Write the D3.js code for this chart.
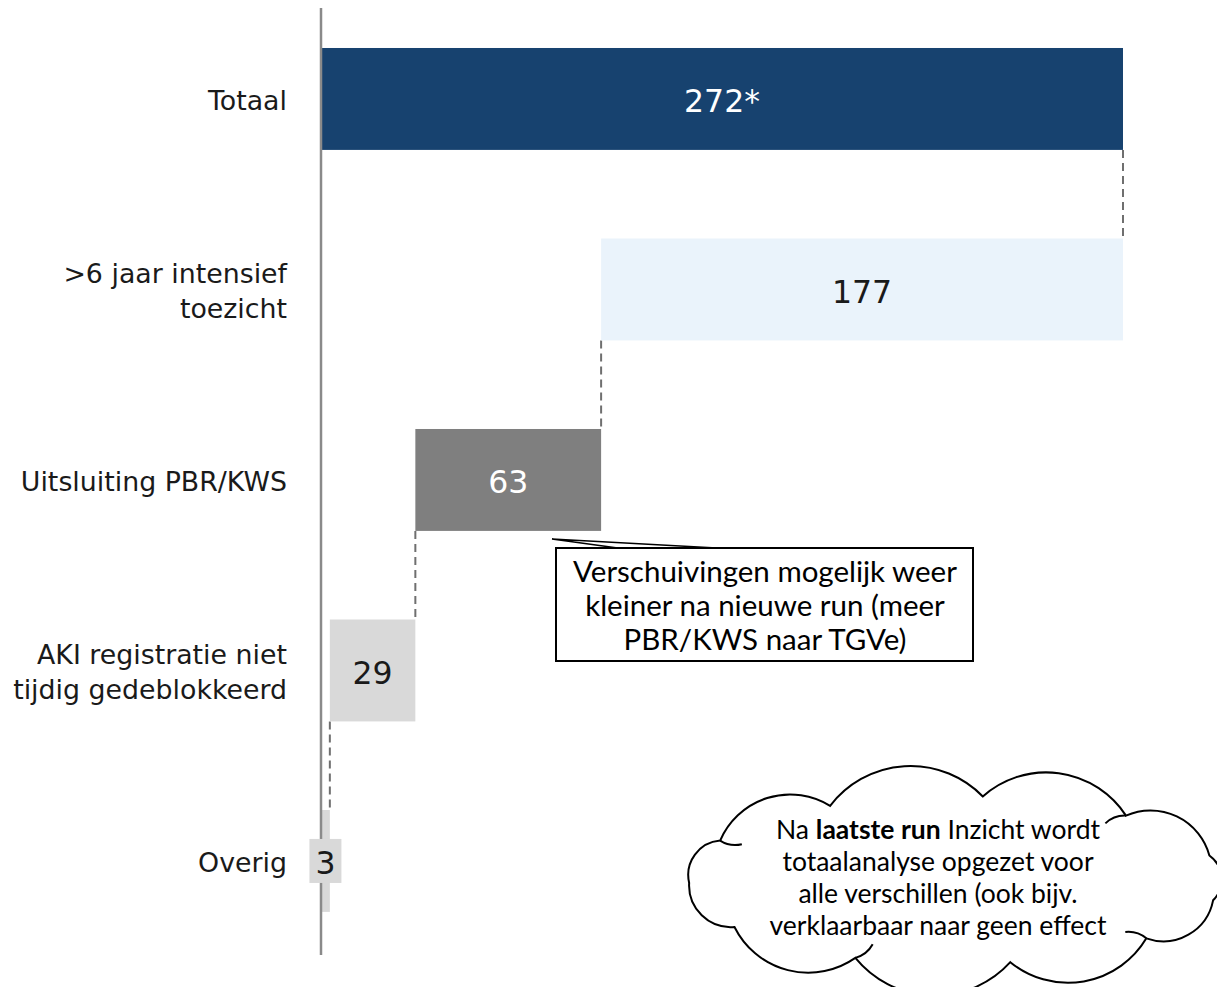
<!DOCTYPE html>
<html>
<head>
<meta charset="utf-8">
<script src="https://cdn.jsdelivr.net/npm/d3@7"></script>
<style>
  body { margin: 0; background: #fff; }
  svg { display: block; }
</style>
</head>
<body>
<div id="chart"></div>
<script>
const width = 1217;
const height = 987;

// waterfall data
const categories = ["Totaal", ">6 jaar intensief toezicht", "Uitsluiting PBR/KWS", "AKI registratie niet tijdig gedeblokkeerd", "Overig"];
const categoryLines = [["Totaal"], [">6 jaar intensief", "toezicht"], ["Uitsluiting PBR/KWS"], ["AKI registratie niet", "tijdig gedeblokkeerd"], ["Overig"]];
const values = [272, 177, 63, 29, 3];
const valueLabels = ["272*", "177", "63", "29", "3"];
const barColors = ["#17426f", "#eaf3fb", "#7f7f7f", "#d9d9d9", "#d9d9d9"];
const labelColors = ["#ffffff", "#1a1a1a", "#ffffff", "#1a1a1a", "#1a1a1a"];

const calloutLines = ["Verschuivingen mogelijk weer", "kleiner na nieuwe run (meer", "PBR/KWS naar TGVe)"];
const cloudLines = [
  [["Na ", false], ["laatste run", true], [" Inzicht wordt", false]],
  [["totaalanalyse opgezet voor", false]],
  [["alle verschillen (ook bijv.", false]],
  [["verklaarbaar naar geen effect", false]]
];

// build start/end for each bar: total first, then steps down
const bars = [];
let running = values[0];
values.forEach((v, i) => {
  if (i === 0) {
    bars.push({ cat: categories[i], x0: 0, x1: v, i });
  } else {
    bars.push({ cat: categories[i], x0: running - v, x1: running, i });
    running = running - v;
  }
});

const svg = d3.select("#chart").append("svg")
  .attr("width", width)
  .attr("height", height);

const x = d3.scaleLinear().domain([0, 272]).range([321, 1123]);
const y = d3.scaleBand().domain(categories).range([3.7, 956.2]).paddingInner(0.465).paddingOuter(0.2325);

// connectors
svg.append("g")
  .selectAll("line")
  .data(bars.slice(1))
  .join("line")
  .attr("x1", d => x(d.x1))
  .attr("x2", d => x(d.x1))
  .attr("y1", d => y(categories[d.i - 1]) + y.bandwidth())
  .attr("y2", d => y(d.cat))
  .attr("stroke", "#6f6f6f")
  .attr("stroke-width", 2)
  .attr("stroke-dasharray", "8,5");

// bars
svg.append("g")
  .selectAll("rect")
  .data(bars)
  .join("rect")
  .attr("x", d => x(d.x0))
  .attr("y", d => y(d.cat))
  .attr("width", d => x(d.x1) - x(d.x0))
  .attr("height", y.bandwidth())
  .attr("fill", d => barColors[d.i]);

// axis line
svg.append("line")
  .attr("x1", 321).attr("x2", 321)
  .attr("y1", 8).attr("y2", 955)
  .attr("stroke", "#8a8a8a")
  .attr("stroke-width", 2.5);

// value labels
const vl = svg.append("g")
  .selectAll("g")
  .data(bars)
  .join("g")
  .attr("transform", d => `translate(${(x(d.x0) + x(d.x1)) / 2},${y(d.cat) + y.bandwidth() / 2})`);

// small bar gets a boxed label
vl.filter(d => d.i === 4)
  .append("rect")
  .attr("x", -16).attr("y", -22)
  .attr("width", 32).attr("height", 44)
  .attr("fill", "#d9d9d9");

vl.append("text")
  .attr("text-anchor", "middle")
  .attr("dy", "0.42em")
  .attr("font-family", "DejaVu Sans, Verdana, sans-serif")
  .attr("font-size", 31.5)
  .attr("fill", d => labelColors[d.i])
  .text(d => valueLabels[d.i]);

// category labels
const cl = svg.append("g")
  .selectAll("text")
  .data(bars)
  .join("text")
  .attr("text-anchor", "end")
  .attr("font-family", "DejaVu Sans, Verdana, sans-serif")
  .attr("font-size", 26.8)
  .attr("fill", "#1a1a1a");

cl.each(function(d) {
  const lines = categoryLines[d.i];
  const cy = y(d.cat) + y.bandwidth() / 2;
  const lh = 35;
  d3.select(this).selectAll("tspan")
    .data(lines)
    .join("tspan")
    .attr("x", 287)
    .attr("y", (l, k) => cy + (k - (lines.length - 1) / 2) * lh)
    .attr("dy", "0.42em")
    .text(l => l);
});

// callout with pointer
const callout = svg.append("g");
callout.append("path")
  .attr("d", "M552,539 L735,549 L625,549 Z")
  .attr("fill", "#fff")
  .attr("stroke", "#000")
  .attr("stroke-width", 1.5)
  .attr("stroke-linejoin", "miter");
callout.append("rect")
  .attr("x", 556).attr("y", 548)
  .attr("width", 417).attr("height", 113)
  .attr("fill", "#fff")
  .attr("stroke", "#000")
  .attr("stroke-width", 2);
callout.append("text")
  .attr("text-anchor", "middle")
  .attr("font-family", "Lato, Carlito, sans-serif")
  .attr("font-size", 29.5)
  .attr("fill", "#000")
  .selectAll("tspan")
  .data(calloutLines)
  .join("tspan")
  .attr("x", 765)
  .attr("y", (l, k) => 572 + k * 34)
  .attr("dy", "0.35em")
  .text(l => l);

// cloud
const cx = 955, cyc = 880, rx = 266, ry = 84;
const angles = [178, 208, 242, 276, 310, 343, 14, 44, 78, 112, 146];
const pts = angles.map(a => {
  const r = a * Math.PI / 180;
  return [cx + rx * Math.cos(r), cyc + ry * Math.sin(r)];
});
let cloudPath = `M${pts[0][0]},${pts[0][1]}`;
for (let k = 1; k <= pts.length; k++) {
  const p = pts[k % pts.length];
  const q = pts[k - 1];
  const chord = Math.hypot(p[0] - q[0], p[1] - q[1]);
  const r = chord * 0.66;
  cloudPath += ` A${r},${r} 0 0,1 ${p[0]},${p[1]}`;
}
cloudPath += " Z";
const cloud = svg.append("g");
cloud.append("path")
  .attr("d", cloudPath)
  .attr("fill", "#fff")
  .attr("stroke", "#000")
  .attr("stroke-width", 2);

// small inner curls at some bump joints
[1, 4, 7, 9].forEach(k => {
  const p = pts[k];
  const dx = cx - p[0], dy = cyc - p[1];
  const len = Math.hypot(dx, dy);
  const e = [p[0] + dx / len * 22, p[1] + dy / len * 22];
  cloud.append("path")
    .attr("d", `M${p[0]},${p[1]} A28,28 0 0,0 ${e[0]},${e[1]}`)
    .attr("fill", "none")
    .attr("stroke", "#000")
    .attr("stroke-width", 2);
});

const ct = cloud.append("text")
  .attr("text-anchor", "middle")
  .attr("font-family", "Lato, Carlito, sans-serif")
  .attr("font-size", 26.5)
  .attr("fill", "#000");
cloudLines.forEach((parts, k) => {
  const line = ct.append("tspan")
    .attr("x", 938)
    .attr("y", 830 + k * 32)
    .attr("dy", "0.35em");
  parts.forEach(([t, b]) => {
    line.append("tspan")
      .attr("font-weight", b ? "bold" : "normal")
      .text(t);
  });
});
</script>
</body>
</html>
